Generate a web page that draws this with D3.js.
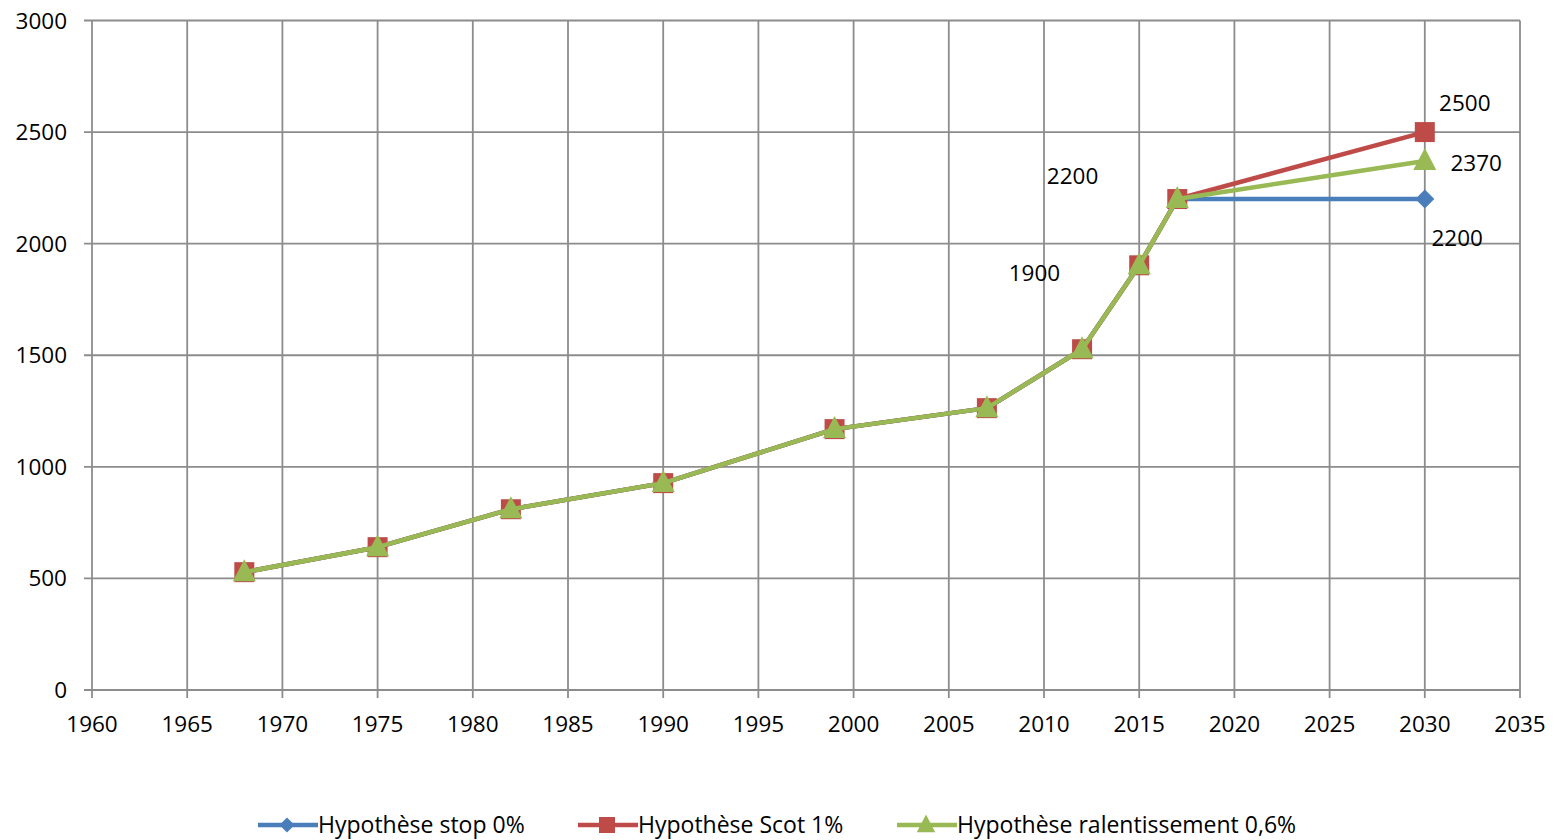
<!DOCTYPE html>
<html>
<head>
<meta charset="utf-8">
<script src="https://cdn.jsdelivr.net/npm/d3@7"></script>
<style>
  body { margin: 0; background: #fff; }
  svg { display: block; }
</style>
</head>
<body>
<div id="chart"></div>
<script>
const years = [1968, 1975, 1982, 1990, 1999, 2007, 2012, 2015, 2017, 2030];
const stop0 = [528, 640, 810, 927, 1169, 1263, 1527, 1903, 2200, 2200];
const scot1 = [528, 640, 810, 927, 1169, 1263, 1527, 1903, 2200, 2500];
const ralent = [528, 640, 810, 927, 1169, 1263, 1527, 1903, 2200, 2370];
const seriesNames = ['Hypothèse stop 0%', 'Hypothèse Scot 1%', 'Hypothèse ralentissement 0,6%'];
const xTicks = d3.range(1960, 2036, 5);
const yTicks = [0, 500, 1000, 1500, 2000, 2500, 3000];
// free-floating value labels: [year, value, text] (baseline anchor)
const valueLabels = [
  [2011.5, 2266, '2200'],
  [2009.5, 1831, '1900'],
  [2032.1, 2593, '2500'],
  [2032.7, 2324, '2370'],
  [2031.7, 1988, '2200']
];

const W = 1554, H = 840;
const font = 'Open Sans, Lato, sans-serif';
const fs = 22.5;
const svg = d3.select('#chart').append('svg').attr('width', W).attr('height', H);

const x = d3.scaleLinear().domain([1960, 2035]).range([92, 1520]);
const y = d3.scaleLinear().domain([0, 3000]).range([690, 20.5]);

const grid = svg.append('g');
xTicks.forEach(t => {
  grid.append('line').attr('x1', x(t)).attr('x2', x(t)).attr('y1', y(3000)).attr('y2', y(0) + 8)
    .attr('stroke', '#8c8c8c').attr('stroke-width', 1.8);
});
yTicks.forEach(t => {
  grid.append('line').attr('x1', x(1960) - 8).attr('x2', x(2035)).attr('y1', y(t)).attr('y2', y(t))
    .attr('stroke', '#8c8c8c').attr('stroke-width', 1.8);
});

grid.selectAll('.xl').data(xTicks).join('text')
  .attr('x', d => x(d)).attr('y', 732).attr('text-anchor', 'middle')
  .attr('font-family', font).attr('font-size', fs).attr('fill', '#000').text(d => d);
grid.selectAll('.yl').data(yTicks).join('text')
  .attr('x', 67).attr('y', d => y(d) + 8).attr('text-anchor', 'end')
  .attr('font-family', font).attr('font-size', fs).attr('fill', '#000').text(d => d);

const series = [
  { name: seriesNames[0], vals: stop0, color: '#4a7ebb', marker: 'diamond' },
  { name: seriesNames[1], vals: scot1, color: '#be4b48', marker: 'square' },
  { name: seriesNames[2], vals: ralent, color: '#98b954', marker: 'triangle' }
];

function markerPath(type) {
  if (type === 'diamond') return 'M0,-9.5L9.5,0L0,9.5L-9.5,0Z';
  if (type === 'square') return 'M-10,-10H10V10H-10Z';
  return 'M0,-13L11.5,9H-11.5Z';
}

const line = d3.line().x(d => x(d[0])).y(d => y(d[1]));
const plot = svg.append('g');
series.forEach(s => {
  const pts = years.map((yr, i) => [yr, s.vals[i]]);
  plot.append('path').attr('d', line(pts)).attr('fill', 'none')
    .attr('stroke', s.color).attr('stroke-width', 4.5).attr('stroke-linejoin', 'round');
  plot.selectAll(null).data(pts).join('path')
    .attr('transform', d => `translate(${x(d[0])},${y(d[1])})`)
    .attr('d', markerPath(s.marker)).attr('fill', s.color);
});

svg.selectAll('.vl').data(valueLabels).join('text')
  .attr('x', d => x(d[0])).attr('y', d => y(d[1])).attr('text-anchor', 'middle')
  .attr('font-family', font).attr('font-size', fs).attr('fill', '#000').text(d => d[2]);

// legend (sits at the very bottom edge, as in the original)
const legX = [258, 578, 897];
const leg = svg.append('g');
series.forEach((s, i) => {
  const lx = legX[i], ly = 825;
  leg.append('line').attr('x1', lx).attr('x2', lx + 60).attr('y1', ly).attr('y2', ly)
    .attr('stroke', s.color).attr('stroke-width', 4.5);
  leg.append('path').attr('transform', `translate(${lx + 29},${ly}) scale(0.8)`)
    .attr('d', markerPath(s.marker)).attr('fill', s.color);
  leg.append('text').attr('x', lx + 60).attr('y', ly + 8)
    .attr('font-family', font).attr('font-size', 23).attr('fill', '#000').text(s.name);
});
</script>
</body>
</html>
